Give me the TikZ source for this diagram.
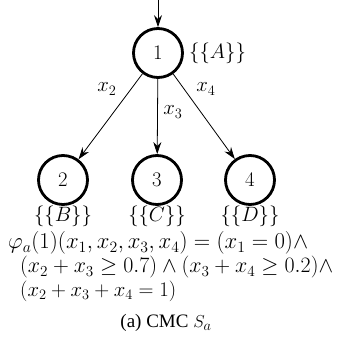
\documentclass[tikz,border=0pt]{standalone}
\usepackage{amssymb}
\usepackage{graphicx}
\usepackage{fontspec}
\newfontfamily\capfont{Liberation Serif}
\usetikzlibrary{arrows.meta}
\begin{document}
\begin{tikzpicture}[x=1pt,y=-1pt,
  state/.style={circle,draw,line width=2.8pt,minimum size=49pt,inner sep=0pt,font=\fontsize{21}{25}\selectfont},
  lab/.style={font=\fontsize{21}{25}\selectfont,inner sep=0pt},
  edge/.style={line width=0.8pt,-{Stealth[length=12pt,width=8pt]}},
  formula/.style={font=\fontsize{21}{25}\selectfont,anchor=west,inner sep=0pt}]
\useasboundingbox (0,0) rectangle (347,353);
\node[state] (n1) at (158,53) {$1$};
\node[state] (n2) at (63,180) {$2$};
\node[state] (n3) at (157,180) {$3$};
\node[state] (n4) at (250,180) {$4$};
\coordinate (in) at (158,0);
\draw[edge] (in) -- (n1);
\draw[edge] (n1) -- (n2);
\draw[edge] (n1) -- (n3);
\draw[edge] (n1) -- (n4);
\node[lab] (e2) at (107,89) {$x_2$};
\node[lab] (e3) at (173,112) {$x_3$};
\node[lab] (e4) at (206,89) {$x_4$};
\node[lab,anchor=west] (la) at (189,53) {$\{\{A\}\}$};
\node[lab] (lb) at (63,216) {$\{\{B\}\}$};
\node[lab] (lc) at (157,216) {$\{\{C\}\}$};
\node[lab] (ld) at (250,216) {$\{\{D\}\}$};
\node[formula] (f1) at (8,243) {\resizebox{300pt}{!}{$\varphi_a(1)(x_1,x_2,x_3,x_4)=(x_1=0)\wedge$}};
\node[formula] (f2) at (20,267.5) {\resizebox{313pt}{!}{$(x_2+x_3\geq 0.7)\wedge(x_3+x_4\geq 0.2)\wedge$}};
\node[formula] (f3) at (20,291) {\resizebox{156pt}{!}{$(x_2+x_3+x_4=1)$}};
\node[inner sep=0pt] (cap) at (166,323) {\fontsize{19}{22}\selectfont\capfont (a) CMC $S_a$};
\end{tikzpicture}
\end{document}
